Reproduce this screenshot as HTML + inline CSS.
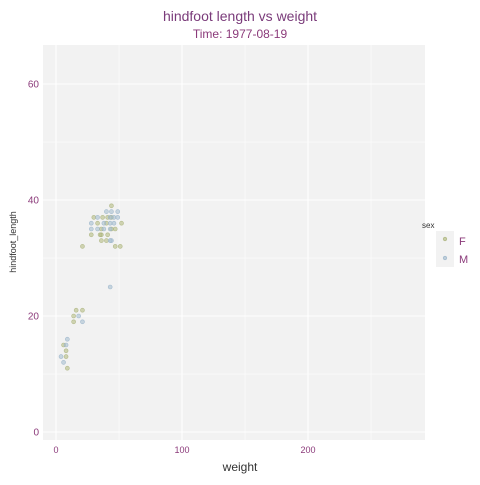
<!DOCTYPE html>
<html><head><meta charset="utf-8"><style>
body{margin:0;background:#fff;font-family:"Liberation Sans",sans-serif}
</style></head><body>
<svg width="480" height="480" id="c" xmlns="http://www.w3.org/2000/svg">
<rect width="480" height="480" fill="#fff"/>
<text x="240" y="21" text-anchor="middle" font-size="14" fill="#7a3b7a">hindfoot length vs weight</text>
<text x="240" y="38" text-anchor="middle" font-size="12" fill="#8b3a7a">Time: 1977-08-19</text>
<rect x="43" y="45" width="382" height="395" fill="#f2f2f2"/>
<g id="grid"></g>
<g id="pts"></g>
<g id="ticks"></g>
<text x="240" y="471" text-anchor="middle" font-size="12" fill="#333">weight</text>
<text transform="translate(16,242) rotate(-90)" text-anchor="middle" font-size="9" fill="#333">hindfoot_length</text>
<g>
<text x="422" y="228" font-size="8" fill="#333">sex</text>
<rect x="436" y="231" width="18" height="36" fill="#f2f2f2"/>
<circle cx="445" cy="239" r="1.8" fill="rgba(181,189,132,0.7)" stroke="rgba(160,170,110,0.8)" stroke-width="0.6"/>
<circle cx="445" cy="258" r="1.8" fill="rgba(168,191,208,0.7)" stroke="rgba(140,170,195,0.8)" stroke-width="0.6"/>
<text x="459" y="245" font-size="11" fill="#8b3a7a">F</text>
<text x="459" y="263" font-size="11" fill="#8b3a7a">M</text>
</g>
</svg>
<script>
const xTicks=[0,100,200];
const yTicks=[0,20,40,60];
const fWeight=[44,30,37,41,44,33,52,36,40,44,47,28,36,35,41,36,40,21,47,51,16,21,14,14,6,8,8,9];
const fHind=[39,37,37,37,37,36,36,35,36,35,35,34,34,34,34,33,33,32,32,32,21,21,20,19,15,14,13,11];
const mWeight=[40,44,49,33,43,46,49,28,38,43,46,28,33,38,43,44,43,43,18,21,9,8,4,6];
const mHind=[38,38,38,37,37,37,37,36,36,36,36,35,35,35,35,33,33,25,20,19,16,15,13,12];
const xs=v=>56+v*1.26, ys=v=>432-v*5.8;
const NS="http://www.w3.org/2000/svg";
const grid=document.getElementById('grid'),pts=document.getElementById('pts'),tk=document.getElementById('ticks');
function line(x1,y1,x2,y2,w,name){const l=document.createElementNS(NS,'line');
l.setAttribute('x1',x1);l.setAttribute('y1',y1);l.setAttribute('x2',x2);l.setAttribute('y2',y2);
l.setAttribute('stroke','#fff');l.setAttribute('stroke-width',w);


grid.appendChild(l);}
for(let v=-50;v<=300;v+=50){const x=xs(v);if(x<43||x>425)continue;line(x,45,x,440,v%100===0?1.1:0.5,'x-gridline');}
for(let v=-10;v<=70;v+=10){const y=ys(v);if(y<45||y>440)continue;line(43,y,425,y,v%20===0?1.1:0.5,'y-gridline');}
xTicks.forEach(v=>{const t=document.createElementNS(NS,'text');t.setAttribute('x',xs(v));t.setAttribute('y',453);
t.setAttribute('text-anchor','middle');t.setAttribute('font-size','9');t.setAttribute('fill','#8b3a7a');t.textContent=v;


tk.appendChild(t);});
yTicks.forEach(v=>{const t=document.createElementNS(NS,'text');t.setAttribute('x',39);t.setAttribute('y',ys(v)+3.5);
t.setAttribute('text-anchor','end');t.setAttribute('font-size','10');t.setAttribute('fill','#8b3a7a');t.textContent=v;


tk.appendChild(t);});
function pt(w,h,fill,stroke,name){const c=document.createElementNS(NS,'circle');
c.setAttribute('cx',xs(w));c.setAttribute('cy',ys(h));c.setAttribute('r',2);
c.setAttribute('fill',fill);c.setAttribute('stroke',stroke);c.setAttribute('stroke-width',0.6);


pts.appendChild(c);}
fWeight.forEach((w,i)=>pt(w,fHind[i],'rgba(181,189,132,0.6)','rgba(160,170,110,0.7)','point-f'));
mWeight.forEach((w,i)=>pt(w,mHind[i],'rgba(168,191,208,0.6)','rgba(140,170,195,0.7)','point-m'));
</script>
</body></html>
